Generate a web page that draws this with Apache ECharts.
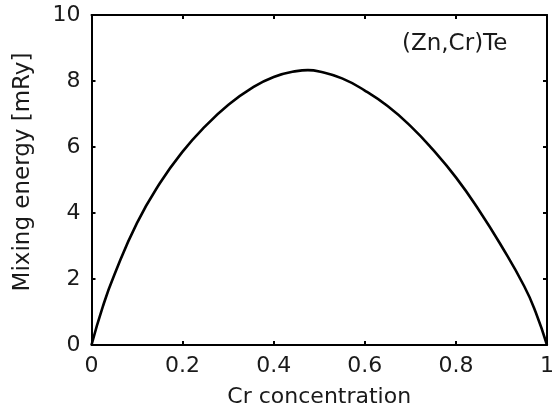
<!DOCTYPE html>
<html>
<head>
<meta charset="utf-8">
<script src="https://cdn.jsdelivr.net/npm/echarts@6/dist/echarts.min.js"></script>
<style>
  html, body { margin: 0; padding: 0; background: #fff; }
  #chart { width: 557px; height: 413px; }
</style>
</head>
<body>
<div id="chart"></div>
<script>
// Mixing energy of (Zn,Cr)Te versus Cr concentration
const crConcentration = [0, 0.025, 0.05, 0.1, 0.15, 0.2, 0.25, 0.3, 0.35, 0.4, 0.45, 0.475, 0.5, 0.55, 0.6, 0.65, 0.7, 0.75, 0.8, 0.85, 0.9, 0.95, 0.975, 1.0];
const mixingEnergy    = [0, 1.17, 2.12, 3.70, 4.90, 5.86, 6.63, 7.27, 7.77, 8.12, 8.30, 8.33, 8.29, 8.08, 7.71, 7.24, 6.64, 5.91, 5.08, 4.10, 3.00, 1.78, 1.0, 0];
const xTicks = [0, 0.2, 0.4, 0.6, 0.8, 1];
const yTicks = [0, 2, 4, 6, 8, 10];
const compoundLabel = '(Zn,Cr)Te';

const FONT = '"DejaVu Sans", "Liberation Sans", sans-serif';
const INK = '#1a1a1a';

const points = crConcentration.map((x, i) => [x, mixingEnergy[i]]);

// Shared style for the four sides of the plot frame
function frameAxis(extra) {
  return Object.assign({
    axisLine: { show: true, onZero: false, lineStyle: { color: '#000', width: 2 } },
    axisTick: { show: true, inside: true, length: 4, lineStyle: { color: '#000', width: 2 } },
    splitLine: { show: false }
  }, extra);
}

const chart = echarts.init(document.getElementById('chart'), null, { renderer: 'canvas' });
chart.setOption({
  animation: false,
  backgroundColor: '#fff',
  grid: { left: 91.5, right: 1.5, top: 15, bottom: 68, containLabel: false },
  xAxis: [
    frameAxis({
      type: 'value', min: 0, max: 1, interval: 0.2, position: 'bottom',
      name: 'Cr concentration', nameLocation: 'middle', nameGap: 41,
      nameTextStyle: { fontFamily: FONT, fontSize: 22, color: INK },
      axisLabel: {
        fontFamily: FONT, fontSize: 22, color: INK, margin: 10,
        formatter: v => (xTicks.includes(+v.toFixed(1)) ? String(+v.toFixed(1)) : '')
      }
    }),
    frameAxis({
      type: 'value', min: 0, max: 1, interval: 0.2, position: 'top',
      axisLabel: { show: false }
    })
  ],
  yAxis: [
    frameAxis({
      type: 'value', min: 0, max: 10, interval: 2, position: 'left',
      name: 'Mixing energy [mRy]', nameLocation: 'middle', nameGap: 57, nameRotate: 90,
      nameTextStyle: { fontFamily: FONT, fontSize: 23, color: INK, padding: [0, 0, 0, 16] },
      axisLabel: {
        fontFamily: FONT, fontSize: 22, color: INK, margin: 11,
        formatter: v => (yTicks.includes(v) ? String(v) : '')
      }
    }),
    frameAxis({
      type: 'value', min: 0, max: 10, interval: 2, position: 'right',
      axisLabel: { show: false }
    })
  ],
  series: [{
    type: 'line',
    xAxisIndex: 0, yAxisIndex: 0,
    data: points,
    smooth: 0.5,
    smoothConstraint: false,
    showSymbol: false,
    lineStyle: { color: '#000', width: 2.6 },
    clip: true
  }],
  graphic: [{
    type: 'text',
    left: 402, top: 33,
    style: { text: compoundLabel, fontFamily: FONT, fontSize: 23, fill: INK }
  }]
});
</script>
</body>
</html>
